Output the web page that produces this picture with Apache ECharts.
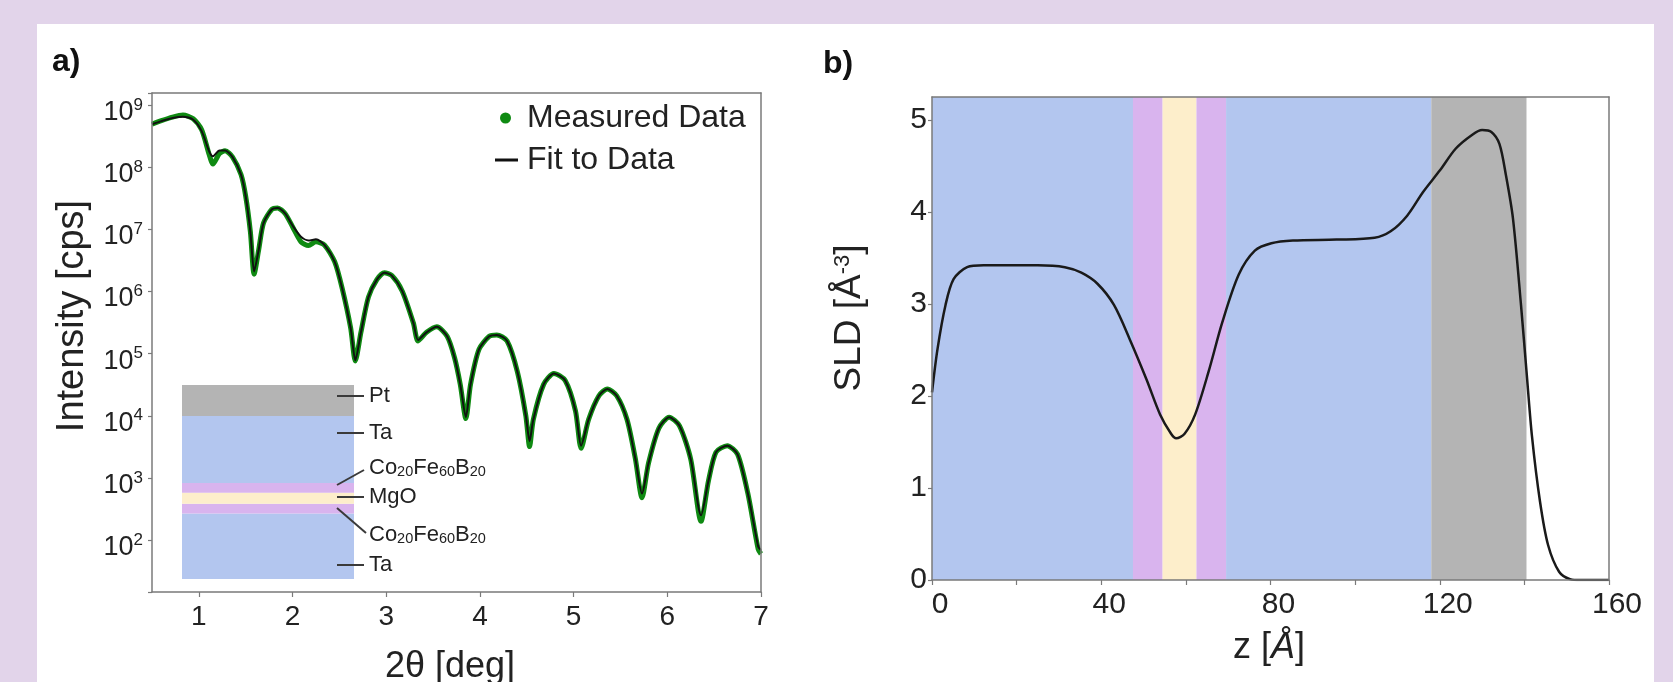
<!DOCTYPE html>
<html><head><meta charset="utf-8">
<script src="https://cdn.jsdelivr.net/npm/echarts@6/dist/echarts.min.js"></script>
<style>
html,body{margin:0;padding:0;background:#E2D4EA;width:1673px;height:682px;overflow:hidden}
#panel{position:absolute;left:37px;top:24px;width:1617px;height:658px;background:#fff}
#chart{position:absolute;left:0;top:0;width:1673px;height:682px}
</style></head><body>
<div id="panel"></div><div id="chart"></div>
<script>
// ---- Panel a: X-ray reflectivity ----
const twoTheta = [0.50,0.60,0.72,0.83,0.94,1.03,1.11,1.15,1.22,1.28,1.36,1.45,1.50,1.55,1.59,1.64,1.69,1.78,1.84,1.92,2.00,2.09,2.17,2.25,2.34,2.45,2.53,2.62,2.67,2.73,2.81,2.90,2.98,3.06,3.17,3.29,3.34,3.43,3.54,3.65,3.73,3.79,3.85,3.90,3.99,4.10,4.18,4.29,4.40,4.49,4.53,4.57,4.68,4.79,4.91,5.02,5.08,5.16,5.27,5.36,5.46,5.57,5.66,5.73,5.80,5.91,6.02,6.13,6.25,6.36,6.44,6.52,6.64,6.75,6.86,6.97,7.00];
const fitIntensity = [4.9e8,5.5e8,6.2e8,6.5e8,5.8e8,3.8e8,1.8e8,1.5e8,1.86e8,1.86e8,1.45e8,7.6e7,3.4e7,9.1e6,2.1e6,4.8e6,1.26e7,2.1e7,2.2e7,1.8e7,1.15e7,7.6e6,6.6e6,6.9e6,5.6e6,3.0e6,1.12e6,2.6e5,7.8e4,2.2e5,8.1e5,1.55e6,2.0e6,1.8e6,1.02e6,3.1e5,1.66e5,2.2e5,2.7e5,1.9e5,8.5e4,3.2e4,9.5e3,3.2e4,1.17e5,1.9e5,2.0e5,1.6e5,5.1e4,1.0e4,3.9e3,8.7e3,3.2e4,4.8e4,3.7e4,1.2e4,3.3e3,8.7e3,2.1e4,2.7e4,2.1e4,8.7e3,2.0e3,5.6e2,1.74e3,6.3e3,9.5e3,6.9e3,2.0e3,2.5e2,9.1e2,2.6e3,3.3e3,2.4e3,5.6e2,79,69];
const measuredIntensity = [4.9e8,5.6e8,6.4e8,6.9e8,6.0e8,4.0e8,1.6e8,1.12e8,1.66e8,1.84e8,1.45e8,7.6e7,3.4e7,9.1e6,1.9e6,4.8e6,1.26e7,2.1e7,2.2e7,1.8e7,1.1e7,6.3e6,5.5e6,6.3e6,5.6e6,3.0e6,1.12e6,2.6e5,7.6e4,2.2e5,8.1e5,1.55e6,2.0e6,1.8e6,1.02e6,3.1e5,1.6e5,2.2e5,2.7e5,1.9e5,8.5e4,3.2e4,9.0e3,3.2e4,1.17e5,1.9e5,2.0e5,1.6e5,5.1e4,1.0e4,3.2e3,8.7e3,3.2e4,4.8e4,3.7e4,1.2e4,3.0e3,8.7e3,2.1e4,2.7e4,2.1e4,8.7e3,2.0e3,4.8e2,1.74e3,6.3e3,9.5e3,6.9e3,2.0e3,2.0e2,9.1e2,2.6e3,3.3e3,2.4e3,5.6e2,71,60];
const xTickLabelsA = [1,2,3,4,5,6,7];
const yExponentLabelsA = [2,3,4,5,6,7,8,9];

// ---- Panel b: SLD profile ----
const zPos = [0,1.3,3.2,5.1,8.3,12.2,25,31.4,35.3,39.1,43,46.8,50.7,53.9,56.5,57.7,59.7,62.2,65.4,68.6,72.5,76.3,80.2,85.3,95.6,104.6,108.4,112.3,116.1,120,123.8,127.7,130,132.2,134.1,135.6,137.3,139.2,140.5,141.8,143.7,145.6,148.2,150.8,153.3,160];
const sld = [2.04,2.51,2.99,3.27,3.40,3.42,3.42,3.40,3.34,3.22,2.99,2.61,2.18,1.80,1.59,1.54,1.59,1.80,2.27,2.80,3.32,3.58,3.66,3.69,3.70,3.72,3.79,3.96,4.22,4.45,4.69,4.84,4.89,4.87,4.74,4.41,3.93,2.99,2.27,1.56,0.85,0.38,0.09,0.01,0,0];
const zTickLabels = [0,40,80,120,160];
const sldTickLabels = [0,1,2,3,4,5];

// ---- Layer stack (shared by panel b bands and the inset) ----
const layerNames = ['Ta','Co20Fe60B20','MgO','Co20Fe60B20','Ta','Pt'];
const layerStart = [0,47.5,54.5,62.5,69.5,118];
const layerEnd = [47.5,54.5,62.5,69.5,118,140.5];
const layerColors = ['#B3C6EF','#D9B4EE','#FDEECB','#D9B4EE','#B3C6EF','#B4B4B4'];
const insetLabels = ['Pt','Ta','Co20Fe60B20','MgO','Co20Fe60B20','Ta'];

const FONT = '"Liberation Sans", Arial, Helvetica, sans-serif';
const TXT = '#222';
const axisLine = {show:true, onZero:false, lineStyle:{color:'#7a7a7a', width:1.5}};
const tickStyle = {color:'#7a7a7a', width:1.2};

function frameAxis(grid, pos, min, max){
  return {gridIndex:grid, position:pos, type:'value', min:min, max:max, z:10,
    axisLine:axisLine, axisTick:{show:false}, axisLabel:{show:false}, splitLine:{show:false}};
}

const chart = echarts.init(document.getElementById('chart'), null, {width:1673, height:682});

// inset label layout (pixels)
const insetLabelY = [396,433,468,497,535,565];
const insetLeaders = [[337,396,364,396],[337,433,364,433],[337,485,364,470],[337,497,364,497],[337,508,366,533],[337,565,364,565]];
const insetRich = {
  b:{fontSize:22, lineHeight:22, verticalAlign:'top', fill:TXT, fontFamily:FONT},
  s:{fontSize:14.5, lineHeight:14.5, verticalAlign:'bottom', padding:[12,0,0,0], fill:TXT, fontFamily:FONT}
};
function toSub(name){
  return name.replace(/(\D+)|(\d+)/g, (m, a, d) => a ? '{b|' + a + '}' : '{s|' + d + '}');
}

const graphics = [];
insetLabels.forEach((name, i) => {
  graphics.push({type:'line', shape:{x1:insetLeaders[i][0], y1:insetLeaders[i][1], x2:insetLeaders[i][2], y2:insetLeaders[i][3]}, style:{stroke:'#3a3a3a', lineWidth:2}, z:20});
  graphics.push({type:'text', x:369, y:insetLabelY[i]-11, z:20, style:{text:toSub(name), rich:insetRich, align:'left', textAlign:'left', verticalAlign:'top', textVerticalAlign:'top'}});
});
graphics.push(
  {type:'text', x:52, y:62, style:{text:'a)', font:'bold 32px ' + FONT, fill:'#111', align:'left', textAlign:'left', verticalAlign:'middle', textVerticalAlign:'middle'}},
  {type:'text', x:823, y:64, style:{text:'b)', font:'bold 32px ' + FONT, fill:'#111', align:'left', textAlign:'left', verticalAlign:'middle', textVerticalAlign:'middle'}},
  {type:'text', x:73, y:316, rotation:Math.PI/2, style:{text:'Intensity [cps]', font:'38px ' + FONT, fill:TXT, align:'center', textAlign:'center', verticalAlign:'middle', textVerticalAlign:'middle'}},
  {type:'text', x:450, y:667, style:{text:'2θ [deg]', font:'36px ' + FONT, fill:TXT, align:'center', textAlign:'center', verticalAlign:'middle', textVerticalAlign:'middle'}},
  {type:'text', x:850, y:318, rotation:Math.PI/2, style:{text:'{n|SLD [Å}{s|-3}{n|]}', rich:{
      n:{fontSize:37, lineHeight:37, verticalAlign:'bottom', fill:TXT, fontFamily:FONT},
      s:{fontSize:22, lineHeight:22, verticalAlign:'top', padding:[0,0,18,0], fill:TXT, fontFamily:FONT}},
      align:'center', textAlign:'center', verticalAlign:'middle', textVerticalAlign:'middle'}},
  {type:'text', x:1269, y:648, style:{text:'{n|z [}{i|Å}{n|]}', rich:{
      n:{fontSize:36, fill:TXT, fontFamily:FONT},
      i:{fontSize:36, fontStyle:'italic', fill:TXT, fontFamily:FONT}},
      align:'center', textAlign:'center', verticalAlign:'middle', textVerticalAlign:'middle'}}
);

const option = {
  animation:false,
  backgroundColor:'transparent',
  textStyle:{fontFamily:FONT},
  grid:[
    {left:152, top:93, width:609, height:499},
    {left:932, top:97, width:677, height:483},
    {left:182, top:385, width:172, height:194}
  ],
  legend:[
    {data:[{name:'Measured Data', icon:'circle', itemStyle:{color:'#0f8a12'}}], left:495, top:97, itemWidth:11, itemHeight:11,
     textStyle:{fontSize:32, color:TXT, fontFamily:FONT, padding:[0,0,0,11]}, selectedMode:false},
    {data:[{name:'Fit to Data', icon:'rect', itemStyle:{color:'#111'}}], left:490, top:139, itemWidth:23, itemHeight:3,
     textStyle:{fontSize:32, color:TXT, fontFamily:FONT, padding:[0,0,0,4]}, selectedMode:false}
  ],
  xAxis:[
    {gridIndex:0, type:'value', position:'bottom', min:0.5, max:7, splitNumber:7, z:10,
     axisLine:axisLine, axisTick:{show:true, length:5, lineStyle:tickStyle}, splitLine:{show:false},
     axisLabel:{fontSize:28, color:TXT, margin:11, showMinLabel:false,
       formatter:v => xTickLabelsA.indexOf(v) >= 0 ? String(v) : ''}},
    {gridIndex:1, type:'value', position:'bottom', min:0, max:160, interval:20, z:10,
     axisLine:axisLine, axisTick:{show:true, length:5, lineStyle:tickStyle}, splitLine:{show:false},
     axisLabel:{fontSize:30, color:TXT, margin:10, padding:[0,0,0,16],
       formatter:v => zTickLabels.indexOf(v) >= 0 ? String(v) : ''}},
    {gridIndex:2, type:'value', min:0, max:1, show:false},
    frameAxis(0, 'top', 0.5, 7),
    frameAxis(1, 'top', 0, 160)
  ],
  yAxis:[
    {gridIndex:0, type:'log', logBase:10, position:'left', min:14.6, max:1.56e9, splitNumber:8, z:10,
     axisLine:axisLine, axisTick:{show:true, length:4, lineStyle:tickStyle}, splitLine:{show:false},
     axisLabel:{margin:9, color:TXT,
       formatter:v => { const e = Math.log10(v); const r = Math.round(e);
         if (Math.abs(e - r) > 1e-6 || yExponentLabelsA.indexOf(r) < 0) return '';
         return '{b|10}{s|' + r + '}'; },
       rich:{
         b:{fontSize:27, lineHeight:27, verticalAlign:'bottom', color:TXT, fontFamily:FONT},
         s:{fontSize:17, lineHeight:42, verticalAlign:'middle', color:TXT, fontFamily:FONT}
       }}},
    {gridIndex:1, type:'value', position:'left', min:0, max:5.25, interval:1, z:10,
     axisLine:axisLine, axisTick:{show:true, length:4, lineStyle:tickStyle}, splitLine:{show:false},
     axisLabel:{fontSize:30, color:TXT, margin:5, showMaxLabel:false,
       formatter:v => sldTickLabels.indexOf(v) >= 0 ? String(v) : ''}},
    {gridIndex:2, type:'value', min:0, max:140.5, show:false},
    frameAxis(0, 'right', 0, 1),
    frameAxis(1, 'right', 0, 1)
  ],
  series:[
    {type:'custom', name:'layers-b', xAxisIndex:1, yAxisIndex:1, silent:true, z:1,
     data:layerStart.map((s, i) => [s, layerEnd[i], i]),
     renderItem:(params, api) => {
       const cs = params.coordSys;
       const x0 = api.coord([api.value(0), 0])[0];
       const x1 = api.coord([api.value(1), 0])[0];
       return {type:'rect', shape:{x:x0, y:cs.y, width:x1 - x0, height:cs.height}, style:{fill:layerColors[api.value(2)]}};
     }},
    {type:'custom', name:'layers-inset', xAxisIndex:2, yAxisIndex:2, silent:true, z:1,
     data:layerStart.map((s, i) => [s, layerEnd[i], i]),
     renderItem:(params, api) => {
       const cs = params.coordSys;
       const y0 = api.coord([0, api.value(0)])[1];
       const y1 = api.coord([0, api.value(1)])[1];
       return {type:'rect', shape:{x:cs.x, y:y1, width:cs.width, height:y0 - y1}, style:{fill:layerColors[api.value(2)]}};
     }},
    {type:'line', name:'Measured Data', xAxisIndex:0, yAxisIndex:0, z:3,
     data:twoTheta.map((x, i) => [x, measuredIntensity[i]]),
     showSymbol:false, smooth:0.25, itemStyle:{color:'#0f8a12'},
     lineStyle:{color:'#0f8a12', width:5}},
    {type:'line', name:'Fit to Data', xAxisIndex:0, yAxisIndex:0, z:4,
     data:twoTheta.map((x, i) => [x, fitIntensity[i]]),
     showSymbol:false, smooth:0.25, itemStyle:{color:'#111'},
     lineStyle:{color:'#111', width:2}},
    {type:'line', name:'SLD', xAxisIndex:1, yAxisIndex:1, z:4,
     data:zPos.map((z, i) => [z, sld[i]]),
     showSymbol:false, smooth:0.3, lineStyle:{color:'#1a1a1a', width:2.5}}
  ],
  graphic:graphics
};
chart.setOption(option);
</script>
</body></html>
